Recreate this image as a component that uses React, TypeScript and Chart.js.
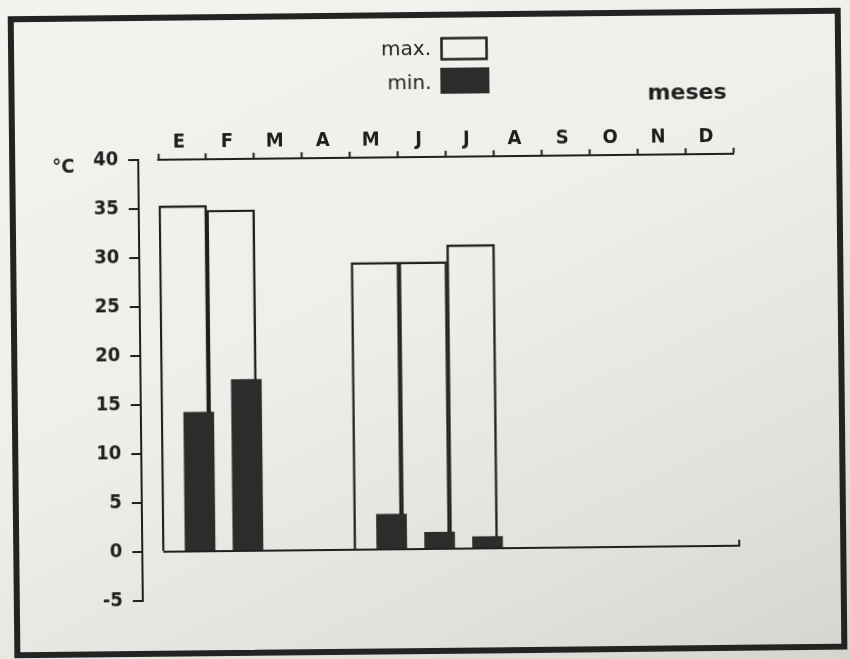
import React, { useEffect, useRef } from 'react';
import { Chart, registerables } from 'chart.js';

Chart.register(...registerables);

// ---- data ----
const months = ['E', 'F', 'M', 'A', 'M', 'J', 'J', 'A', 'S', 'O', 'N', 'D'];
const maxTemps: (number | null)[] = [35.3, 34.8, null, null, 29.3, 29.3, 31.0, null, null, null, null, null];
const minTemps: (number | null)[] = [14.2, 17.5, null, null, 3.6, 1.7, 1.2, null, null, null, null, null];
const yMin = -5;
const yMax = 40;
const yStep = 5;
const legendLabels = ['max.', 'min.'];
const xTitle = 'meses';
const yTitle = '°C';

// ---- style ----
const INK = '#1f1f1f';
const DARK = '#2c2c2c';
const FONT = "'DejaVu Sans Condensed', 'Liberation Sans Narrow', 'DejaVu Sans', sans-serif";
const FONT_WIDE = "'DejaVu Sans', sans-serif";

const annotations = {
  id: 'annotations',
  afterDraw(chart: any) {
    const ctx = chart.ctx as CanvasRenderingContext2D;
    const area = chart.chartArea;
    ctx.save();
    ctx.fillStyle = INK;
    ctx.strokeStyle = INK;
    // legend: text then swatch
    ctx.font = `20px ${FONT_WIDE}`;
    ctx.textAlign = 'right';
    ctx.textBaseline = 'alphabetic';
    ctx.fillText(legendLabels[0], 434, 55);
    ctx.lineWidth = 2.5;
    ctx.strokeRect(444.5, 38.5, 45, 21);
    ctx.fillText(legendLabels[1], 434, 89);
    ctx.fillStyle = DARK;
    ctx.fillRect(443, 68, 49, 26);
    // axis titles
    ctx.fillStyle = INK;
    ctx.font = `bold 22px ${FONT_WIDE}`;
    ctx.textAlign = 'right';
    ctx.fillText(xTitle, area.right - 6, 102);
    ctx.font = `bold 20px ${FONT}`;
    ctx.textAlign = 'left';
    ctx.fillText(yTitle, 54, area.top + 12);
    // small end tick of the zero line
    const y0 = chart.scales.y.getPixelForValue(0);
    ctx.lineWidth = 2;
    ctx.beginPath();
    ctx.moveTo(area.right, y0);
    ctx.lineTo(area.right + 2, y0);
    ctx.lineTo(area.right + 2, y0 - 6);
    ctx.stroke();
    ctx.restore();
  },
};

export default function App() {
  const canvasRef = useRef<HTMLCanvasElement>(null);

  useEffect(() => {
    const canvas = canvasRef.current;
    if (!canvas) return;
    const chart = new Chart(canvas, {
      type: 'bar',
      data: {
        labels: months,
        datasets: [
          {
            label: legendLabels[0],
            data: maxTemps,
            xAxisID: 'x',
            yAxisID: 'y',
            backgroundColor: 'rgba(0,0,0,0)',
            borderColor: INK,
            borderWidth: 1.8,
            borderSkipped: 'start',
            barPercentage: 1,
            categoryPercentage: 1,
            grouped: false,
            order: 1,
          },
          {
            label: legendLabels[1],
            data: months.map((_, i) => ({ x: i, y: minTemps[i] })) as any,
            xAxisID: 'x2',
            yAxisID: 'y',
            backgroundColor: DARK,
            borderWidth: 0,
            barThickness: 30,
            grouped: false,
            order: 0,
          },
        ],
      },
      options: {
        responsive: false,
        animation: false,
        layout: { padding: { left: 80, right: 115, top: 117, bottom: 61 } },
        plugins: {
          legend: { display: false },
          tooltip: { enabled: false },
        },
        scales: {
          x: {
            type: 'category',
            position: 'top',
            offset: true,
            grid: {
              offset: true,
              drawOnChartArea: false,
              drawTicks: true,
              tickLength: 6,
              tickColor: INK,
              tickWidth: 2,
            },
            border: { display: true, color: INK, width: 2 },
            ticks: {
              color: INK,
              font: { family: FONT, size: 20, weight: 'bold', lineHeight: 1 },
              padding: 1,
              labelOffset: -3,
              maxRotation: 0,
              autoSkip: false,
            },
            afterFit: (s: any) => {
              s.height = 40;
            },
          },
          x2: {
            type: 'linear',
            display: false,
            min: -0.79,
            max: 11.21,
            offset: false,
          },
          y: {
            type: 'linear',
            position: 'left',
            weight: 1,
            min: yMin,
            max: yMax,
            ticks: {
              stepSize: yStep,
              color: INK,
              font: { family: FONT, size: 20, weight: 'bold' },
              padding: 10,
            },
            grid: {
              drawTicks: true,
              tickLength: 10,
              tickColor: INK,
              tickWidth: 2,
              lineWidth: 2,
              color: (c: any) => (c.tick && c.tick.value === 0 ? INK : 'rgba(0,0,0,0)'),
            },
            border: { display: true, color: INK, width: 2 },
            afterFit: (s: any) => {
              s.width = 60;
            },
          },
          yGap: {
            type: 'linear',
            position: 'left',
            weight: 0,
            display: true,
            ticks: { display: false },
            grid: { display: false },
            border: { display: false },
            afterFit: (s: any) => {
              s.width = 20;
            },
          },
        },
      },
      plugins: [annotations],
    });
    return () => chart.destroy();
  }, []);

  return (
    <div
      style={{
        position: 'fixed',
        left: 0,
        top: 0,
        width: 850,
        height: 659,
        overflow: 'hidden',
        background: 'linear-gradient(155deg, #f4f3ef 0%, #efeee9 45%, #e2e0da 80%, #d6d4ce 100%)',
      }}
    >
      <div
        style={{
          position: 'absolute',
          left: 0,
          top: 0,
          width: 850,
          height: 659,
          transform: 'rotate(-0.6deg)',
          transformOrigin: '425px 330px',
        }}
      >
        <div
          style={{
            position: 'absolute',
            left: 11,
            top: 12,
            width: 833,
            height: 642,
            border: '6px solid #232323',
            boxSizing: 'border-box',
          }}
        />
        <canvas
          ref={canvasRef}
          width={850}
          height={659}
          style={{ position: 'absolute', left: 0, top: 0, width: 850, height: 659 }}
        />
      </div>
    </div>
  );
}
